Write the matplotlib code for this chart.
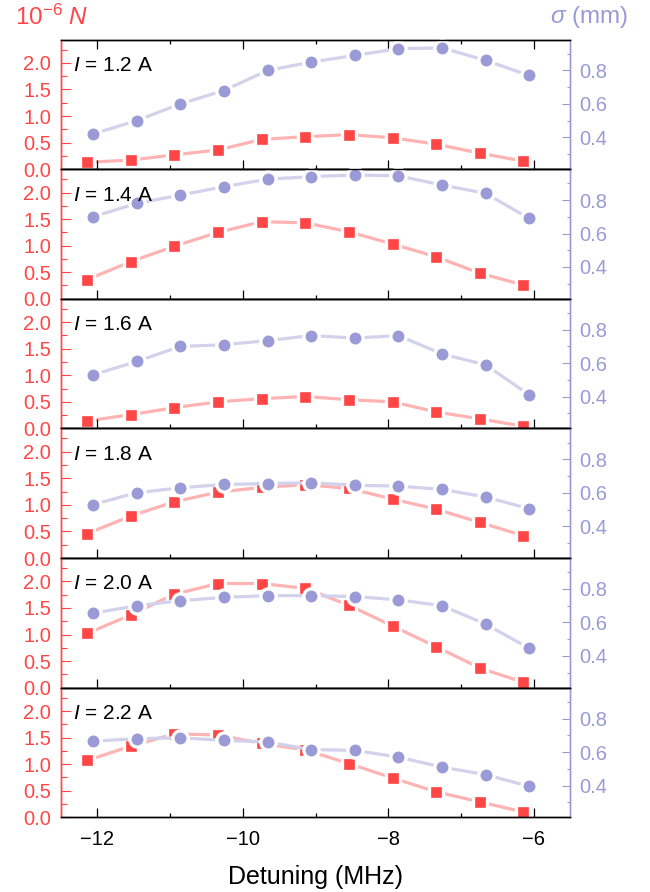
#!/usr/bin/env python3

import numpy as np
import matplotlib
matplotlib.use("Agg")
import matplotlib.pyplot as plt
from matplotlib.ticker import MultipleLocator, FormatStrFormatter

plt.rcParams['font.family'] = ['Liberation Sans', 'DejaVu Sans']
plt.rcParams['mathtext.fontset'] = 'custom'
plt.rcParams['mathtext.rm'] = 'Liberation Sans'
plt.rcParams['mathtext.it'] = 'Liberation Sans:italic'
plt.rcParams['mathtext.sf'] = 'Liberation Sans'

# detuning (MHz) of each measurement
detuning = [-12.1, -11.5, -10.9, -10.3, -9.7, -9.1, -8.5, -7.9, -7.3, -6.7, -6.1]
currents = ["1.2", "1.4", "1.6", "1.8", "2.0", "2.2"]

# atom number (10^-6 N) per coil current
N_12 = [0.13, 0.17, 0.27, 0.36, 0.56, 0.61, 0.65, 0.59, 0.47, 0.30, 0.15]
N_14 = [0.36, 0.70, 0.99, 1.25, 1.45, 1.43, 1.26, 1.03, 0.79, 0.48, 0.26]
N_16 = [0.14, 0.26, 0.39, 0.50, 0.56, 0.60, 0.54, 0.50, 0.31, 0.18, 0.04]
N_18 = [0.46, 0.79, 1.06, 1.24, 1.33, 1.38, 1.31, 1.11, 0.92, 0.67, 0.42]
N_20 = [1.02, 1.37, 1.76, 1.96, 1.96, 1.87, 1.55, 1.16, 0.77, 0.37, 0.10]
N_22 = [1.07, 1.34, 1.57, 1.55, 1.39, 1.27, 1.01, 0.74, 0.48, 0.29, 0.10]

# cloud size sigma (mm) per coil current
s_12 = [0.42, 0.50, 0.60, 0.68, 0.80, 0.85, 0.89, 0.93, 0.935, 0.86, 0.77]
s_14 = [0.70, 0.78, 0.83, 0.88, 0.925, 0.94, 0.95, 0.945, 0.89, 0.84, 0.69]
s_16 = [0.53, 0.61, 0.70, 0.71, 0.735, 0.765, 0.75, 0.765, 0.655, 0.59, 0.41]
s_18 = [0.53, 0.60, 0.63, 0.65, 0.655, 0.66, 0.645, 0.64, 0.62, 0.575, 0.505]
s_20 = [0.655, 0.70, 0.73, 0.75, 0.76, 0.76, 0.755, 0.735, 0.70, 0.59, 0.445]
s_22 = [0.665, 0.68, 0.685, 0.67, 0.66, 0.615, 0.61, 0.57, 0.51, 0.465, 0.395]

N_all = [N_12, N_14, N_16, N_18, N_20, N_22]
s_all = [s_12, s_14, s_16, s_18, s_20, s_22]

RED = '#ff4646'
RED_LINE = '#ffb3b3'
PUR = '#9a9ad6'
PUR_LINE = '#d2d2ec'


def main():
    fig = plt.figure(figsize=(6.5, 8.92), dpi=100)
    gs = fig.add_gridspec(6, 1, left=61 / 650, right=570 / 650,
                          bottom=1 - 817.3 / 892, top=1 - 39.5 / 892, hspace=0)
    x = np.array(detuning)
    for i in range(6):
        ax = fig.add_subplot(gs[i])
        ax2 = ax.twinx()
        # sigma drawn on top of N, as in the reference
        ax.plot(x - 0.04, N_all[i], color=RED_LINE, lw=2.3, zorder=1)
        ax.plot(x - 0.04, N_all[i], ls='none', marker='s', ms=10, mfc=RED,
                mec='white', mew=2.4, clip_on=False, zorder=2)
        ax2.plot(x + 0.04, s_all[i], color=PUR_LINE, lw=2.3, zorder=1)
        ax2.plot(x + 0.04, s_all[i], ls='none', marker='o', ms=11, mfc=PUR,
                 mec='white', mew=2.4, clip_on=False, zorder=2)

        ax.set_xlim(-12.5, -5.5)
        ax.set_ylim(0, 2.44)
        ax2.set_ylim(0.21, 0.985)

        ax.xaxis.set_major_locator(MultipleLocator(2))
        ax.xaxis.set_minor_locator(MultipleLocator(1))
        ax.yaxis.set_major_locator(MultipleLocator(0.5))
        ax.yaxis.set_minor_locator(MultipleLocator(0.25))
        ax2.set_yticks([0.4, 0.6, 0.8])
        ax2.set_yticks([0.3, 0.5, 0.7, 0.9], minor=True)
        ax.yaxis.set_major_formatter(FormatStrFormatter('%.1f'))
        ax2.yaxis.set_major_formatter(FormatStrFormatter('%.1f'))

        ax.tick_params(axis='y', which='major', direction='in', length=7.2,
                       width=0.8, color=RED, labelcolor=RED, labelsize=14.5, pad=7)
        ax.tick_params(axis='y', which='minor', direction='in', length=4.3,
                       width=0.8, color=RED)
        ax2.tick_params(axis='y', which='major', direction='in', length=6,
                        width=0.8, color=PUR, labelcolor=PUR, labelsize=14.5, pad=7)
        ax2.tick_params(axis='y', which='minor', direction='in', length=2.4,
                        width=0.8, color=PUR)
        ax.tick_params(axis='x', which='major', direction='in', length=6.5,
                       width=0.9, labelsize=14.5, pad=9, top=(i == 0),
                       labelbottom=(i == 5))
        ax.tick_params(axis='x', which='minor', direction='in', length=3,
                       width=0.9, top=(i == 0))

        for a in (ax, ax2):
            a.spines['left'].set_color(RED)
            a.spines['right'].set_color(PUR)
            for sp in a.spines.values():
                sp.set_linewidth(1.0)
        ax2.set_zorder(ax.get_zorder() + 1)

        ax2.text(0.023, 0.80, "$I$ = %s A" % currents[i], transform=ax.transAxes,
                 fontsize=15, ha='left', va='center', color='black')

    fig.text(15 / 650, 1 - 17 / 892, r"$10^{-6}$ $N$", color=RED, fontsize=17.5,
             ha='left', va='center')
    fig.text(628 / 650, 1 - 17 / 892, r"$\sigma$ (mm)", color=PUR, fontsize=17.5,
             ha='right', va='center')
    fig.text(315 / 650, 1 - 877 / 892, "Detuning (MHz)", fontsize=18,
             ha='center', va='center')

    fig.savefig("out.png", dpi=100)


if __name__ == "__main__":
    main()
